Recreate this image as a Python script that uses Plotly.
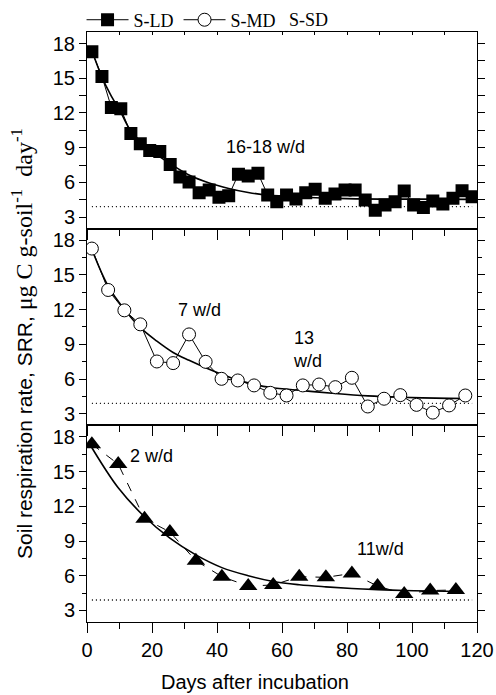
import plotly.graph_objects as go

# ---------------- data ----------------
ld_days = [1.5, 4.6, 7.5, 10.4, 13.5, 16.4, 19.3, 22.4, 25.6, 28.6, 31.4, 34.5, 37.6, 40.6,
           43.6, 46.6, 49.6, 52.6, 55.6, 58.4, 61.4, 64.3, 67.3, 70.2, 73.3, 76.3, 79.4, 82.5,
           85.6, 88.7, 91.7, 94.8, 97.6, 100.5, 103.5, 106.4, 109.5, 112.6, 115.4, 118.5]
ld_srr = [17.3, 15.16, 12.47, 12.37, 10.23, 9.34, 8.76, 8.67, 7.54, 6.47, 6.04, 5.11, 5.34, 4.71,
          4.85, 6.71, 6.56, 6.79, 4.91, 4.33, 4.91, 4.56, 5.11, 5.40, 4.62, 5.0, 5.34, 5.34,
          4.47, 3.6, 4.04, 4.33, 5.25, 4.04, 3.84, 4.39, 4.13, 4.62, 5.28, 4.76]
ld_fit_days = [1.5, 4.6, 7.2, 10.4, 13.5, 19.3, 25.6, 31.4, 37.6, 43.6, 49.6, 55.6, 65, 80, 100, 119]
ld_fit_srr = [17.4, 15.1, 13.6, 12.05, 10.45, 8.85, 7.62, 6.64, 5.95, 5.48, 5.13, 4.9, 4.74, 4.6, 4.55, 4.53]

md_days = [1.5, 6.5, 11.5, 16.4, 21.5, 26.5, 31.4, 36.5, 41.4, 46.4, 51.4, 56.4, 61.4,
           66.4, 71.4, 76.4, 81.5, 86.4, 91.4, 96.4, 101.4, 106.4, 111.4, 116.4]
md_srr = [17.28, 13.7, 11.94, 10.73, 7.52, 7.38, 9.86, 7.49, 6.02, 5.88, 5.45, 4.81, 4.58,
          5.45, 5.53, 5.3, 6.11, 3.63, 4.3, 4.61, 3.77, 3.1, 3.72, 4.58]
md_fit_days = [1.5, 6.5, 11.5, 16.4, 21.5, 26.5, 31.4, 36.5, 41.4, 46.4, 51.4, 56.4, 66.4, 76.4, 86.4, 96.4, 111.4, 118]
md_fit_srr = [17.2, 14.04, 12.03, 10.44, 9.28, 8.3, 7.62, 6.98, 6.42, 5.92, 5.55, 5.27, 5.0, 4.75, 4.55, 4.43, 4.33, 4.32]

sd_days = [1.5, 9.6, 17.7, 25.5, 33.5, 41.5, 49.6, 57.3, 65.3, 73.5, 81.5, 89.4, 97.6, 105.6, 113.5]
sd_srr = [17.37, 15.65, 10.93, 9.78, 7.3, 5.92, 5.11, 5.2, 5.92, 5.86, 6.2, 5.11, 4.43, 4.72, 4.77]
sd_fit_days = [1.0, 9.6, 17.7, 25.5, 33.5, 41.5, 49.6, 57.3, 65.3, 73.5, 81.5, 89.4, 97.6, 105.6, 115]
sd_fit_srr = [17.3, 13.6, 11.1, 9.25, 7.8, 6.7, 6.0, 5.5, 5.22, 5.04, 4.9, 4.8, 4.72, 4.68, 4.64]

baseline_days = [1.5, 118.5]
baseline_srr = [3.9, 3.9]

y_ticks = [3, 6, 9, 12, 15, 18]
x_ticks = [0, 20, 40, 60, 80, 100, 120]

SANS = "Liberation Sans, Arial, sans-serif"
SERIF = "Liberation Serif, Times New Roman, serif"

fig = go.Figure()

panels = [
    ("x", "y", ld_days, ld_srr, ld_fit_days, ld_fit_srr,
     dict(symbol="square", size=13, color="black", line=dict(width=0)), "S-LD", "solid", True),
    ("x2", "y2", md_days, md_srr, md_fit_days, md_fit_srr,
     dict(symbol="circle", size=13, color="white", line=dict(color="black", width=1)), "S-MD", "solid", True),
    ("x3", "y3", sd_days, sd_srr, sd_fit_days, sd_fit_srr,
     dict(symbol="triangle-up", size=16, color="black", line=dict(width=0)), "S-SD", "dash", False),
]

for xr, yr, dx, dy, fx, fy, mk, name, dash, showleg in panels:
    fig.add_trace(go.Scatter(x=baseline_days, y=baseline_srr, mode="lines",
                             line=dict(color="black", width=1.3, dash="1px,3px"),
                             xaxis=xr if xr != "x" else "x4", yaxis=yr, showlegend=False, hoverinfo="skip"))
    fig.add_trace(go.Scatter(x=fx, y=fy, mode="lines", line=dict(color="black", width=1.6, shape="spline"),
                             xaxis=xr, yaxis=yr, showlegend=False))
    fig.add_trace(go.Scatter(x=dx, y=dy, mode="lines+markers", name=name,
                             line=dict(color="black", width=1, dash=dash),
                             marker=mk, xaxis=xr, yaxis=yr, showlegend=showleg))

domains = {"y": [2/3, 1.0], "y2": [1/3, 2/3], "y3": [0.0, 1/3]}

yax_common = dict(range=[2, 19], tickvals=y_ticks, ticks="outside", ticklen=7, tickwidth=1,
                  tickcolor="black", showline=True, linecolor="black", linewidth=1, mirror="allticks",
                  showgrid=False, zeroline=False, tickfont=dict(family=SANS, size=20, color="black"),
                  minor=dict(dtick=1.5, tick0=0, ticks="outside", ticklen=4, tickcolor="black"))
xax_common = dict(range=[0, 120], tickvals=x_ticks, ticks="outside", ticklen=10, tickwidth=1,
                  tickcolor="black", showline=True, linecolor="black", linewidth=1, mirror=True,
                  showgrid=False, zeroline=False, tickfont=dict(family=SANS, size=20, color="black"),
                  minor=dict(dtick=10, tick0=0, ticks="outside", ticklen=6, tickcolor="black"))

fig.update_layout(
    xaxis=dict(xax_common, anchor="y", showticklabels=False),
    xaxis2=dict(xax_common, anchor="y2", showticklabels=False),
    xaxis3=dict(xax_common, anchor="y3", showticklabels=True),
    xaxis4=dict(range=[0, 120], overlaying="x", side="top", anchor="y", tickvals=x_ticks,
                ticks="inside", ticklen=3, tickcolor="black", showticklabels=False, showline=False,
                showgrid=False, zeroline=False,
                minor=dict(dtick=10, tick0=0, ticks="inside", ticklen=3, tickcolor="black")),
    yaxis=dict(yax_common, domain=domains["y"], anchor="x"),
    yaxis2=dict(yax_common, domain=domains["y2"], anchor="x2"),
    yaxis3=dict(yax_common, domain=domains["y3"], anchor="x3"),
)

ann = [
    dict(text="16-18 w/d", x=54.8, y=9.08, xref="x", yref="y"),
    dict(text="7 w/d", x=34.5, y=11.94, xref="x2", yref="y2"),
    dict(text="13<br>w/d", x=62.7, y=8.56, xref="x2", yref="y2", xanchor="left", align="left"),
    dict(text="2 w/d", x=19.7, y=16.37, xref="x3", yref="y3"),
    dict(text="11w/d", x=90.2, y=8.35, xref="x3", yref="y3"),
]
for a in ann:
    fig.add_annotation(showarrow=False, font=dict(family=SANS, size=18, color="black"), **a)

fig.add_annotation(text="S-SD", x=0.513, y=1.0203, xref="paper", yref="paper", xanchor="left",
                   yanchor="middle", showarrow=False, font=dict(family=SERIF, size=18, color="black"))

ytitle = ("Soil respiration rate, SRR, "
          "<span style='font-family:Liberation Serif;font-size:24px'>\u03bcg C g-soil<sup>-1</sup>\u00a0 day<sup>-1</sup></span>")
fig.add_annotation(text=ytitle, x=-0.1667, y=0.473, xref="paper", yref="paper", textangle=-90,
                   showarrow=False, xanchor="center", yanchor="middle",
                   font=dict(family=SANS, size=21, color="black"))
fig.add_annotation(text="Days after incubation", x=0.432, y=-0.101,
                   xref="paper", yref="paper", showarrow=False, yanchor="middle",
                   font=dict(family=SANS, size=20, color="black"))

fig.update_layout(
    width=496, height=695,
    margin=dict(l=87, r=19, t=32, b=73, autoexpand=False),
    paper_bgcolor="white", plot_bgcolor="white",
    showlegend=True,
    legend=dict(orientation="h", x=-0.014, xanchor="left", y=1.0203, yanchor="middle",
                font=dict(family=SERIF, size=18, color="black"), bgcolor="rgba(0,0,0,0)",
                itemwidth=42, tracegroupgap=0, borderwidth=0),
)

fig.write_html("out.html", config={"displayModeBar": False},
               post_script="document.body.style.margin='0px';document.body.style.overflow='hidden';")
